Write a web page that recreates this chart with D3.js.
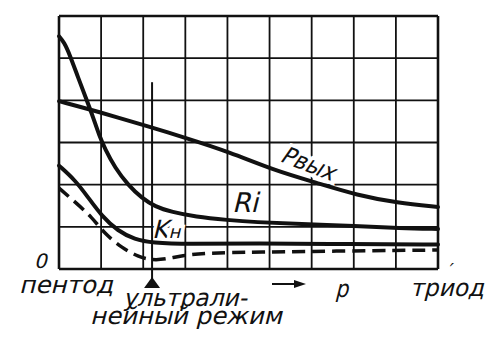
<!DOCTYPE html>
<html>
<head>
<meta charset="utf-8">
<script src="https://cdn.jsdelivr.net/npm/d3@7"></script>
<style>
  body { margin: 0; background: #fff; }
  text { font-family: "DejaVu Sans", sans-serif; fill: #111; }
</style>
</head>
<body>
<div id="chart"></div>
<script>
// pentode -> triode curves, values in grid cells (9 x 6)

var cols = d3.range(0, 10),
    rows = d3.range(0, 7);

var pOut = [[0, 3.98], [0.97, 3.72], [2.16, 3.37], [2.94, 3.13], [4.06, 2.77],
            [5.08, 2.35], [6.13, 2.04], [7.08, 1.75], [8.03, 1.57], [9, 1.47]];

var ri = [[0, 5.52], [0.12, 5.38], [0.26, 5.07], [0.45, 4.55], [0.66, 4.0],
          [0.81, 3.60], [0.95, 3.18], [1.09, 2.85], [1.33, 2.40], [1.64, 1.99],
          [1.97, 1.68], [2.28, 1.48], [2.68, 1.35], [3.23, 1.24], [4.01, 1.16],
          [4.65, 1.11], [5.72, 1.07], [7.05, 1.02], [8.1, 0.97], [9, 0.95]];

var kn = [[0, 2.45], [0.38, 2.11], [0.69, 1.70], [1.02, 1.25], [1.40, 0.90],
          [1.80, 0.70], [2.21, 0.62], [3.06, 0.59], [4.65, 0.61], [6.91, 0.59],
          [9, 0.58]];

var knDash = [[0, 1.92], [0.38, 1.59], [0.78, 1.23], [1.09, 0.83], [1.50, 0.50],
              [1.88, 0.29], [2.21, 0.21], [2.52, 0.23], [2.92, 0.32], [3.47, 0.38],
              [4.65, 0.40], [6.91, 0.43], [9, 0.45]];

var ultraPos = 2.21,   // ultralinear mode marker
    ultraTop = 4.43;

var width = 500,
    height = 344,
    slant = -14;

var svg = d3.select("#chart").append("svg")
    .attr("width", width)
    .attr("height", height);

var xScale = d3.scaleLinear().domain([0, 9]).range([59, 438]);
var yScale = d3.scaleLinear().domain([0, 6]).range([269, 16]);

// grid
svg.append("g").selectAll("line")
  .data(cols)
  .enter().append("line")
    .attr("x1", function(d) { return xScale(d); })
    .attr("x2", function(d) { return xScale(d); })
    .attr("y1", yScale(0))
    .attr("y2", yScale(6))
    .attr("stroke", "#111")
    .attr("stroke-width", function(d) { return (d == 0 || d == 9) ? 2.6 : 1.8; });

svg.append("g").selectAll("line")
  .data(rows)
  .enter().append("line")
    .attr("x1", xScale(0))
    .attr("x2", xScale(9))
    .attr("y1", function(d) { return yScale(d); })
    .attr("y2", function(d) { return yScale(d); })
    .attr("stroke", "#111")
    .attr("stroke-width", function(d) { return (d == 0 || d == 6) ? 2.6 : 1.8; });

// slanted text, optional white halo that cuts the grid
function label(txt, x, y, size, len, rot, halo) {
  var g = svg.append("g")
      .attr("transform", "translate(" + x + "," + y + ")" +
            (rot ? " rotate(" + rot + ")" : "") + " skewX(" + slant + ")");
  var t = g.append("text")
      .attr("font-size", size)
      .text(txt);
  if (halo) t.attr("stroke", "#fff").attr("stroke-width", 7).attr("paint-order", "stroke");
  if (len) t.attr("textLength", len).attr("lengthAdjust", "spacingAndGlyphs");
  return t;
}

label("Pвых", 279, 161, 24, 56, 21, true);
label("Ri", 232, 212, 27, 26, 0, true);
var kt = label("K", 152, 238, 25, 0, 0, true);
kt.append("tspan").attr("font-size", 18).text("н");

var line = d3.line()
    .x(function(d) { return xScale(d[0]); })
    .y(function(d) { return yScale(d[1]); })
    .curve(d3.curveBasis);

[pOut, ri, kn].forEach(function(s) {
  svg.append("path")
    .attr("d", line(s))
    .attr("fill", "none")
    .attr("stroke", "#111")
    .attr("stroke-width", 4)
    .attr("stroke-linecap", "round");
});

svg.append("path")
  .attr("d", line(knDash))
  .attr("fill", "none")
  .attr("stroke", "#111")
  .attr("stroke-width", 3.5)
  .attr("stroke-dasharray", "13,7");

// ultralinear marker
var mx = xScale(ultraPos);
svg.append("line")
  .attr("x1", mx).attr("x2", mx)
  .attr("y1", yScale(ultraTop))
  .attr("y2", yScale(0) + 10)
  .attr("stroke", "#111")
  .attr("stroke-width", 2);
svg.append("path")
  .attr("d", "M" + mx + "," + (yScale(0) + 8) + "L" + (mx - 8) + "," + (yScale(0) + 19) +
             "L" + (mx + 8) + "," + (yScale(0) + 19) + "Z")
  .attr("fill", "#111");

// texts under the axis
label("0", 34, 268, 20);
label("пентод", 19, 293, 24, 94);
label("ультрали-", 123, 306, 24, 124);
label("нейный режим", 90, 324, 24, 192);
label("р", 335, 297, 24, 13);
label("триод", 410, 296, 24, 74);
label("′", 447, 276, 18);

// arrow
svg.append("line")
  .attr("x1", 272).attr("x2", 298)
  .attr("y1", 284).attr("y2", 284)
  .attr("stroke", "#111").attr("stroke-width", 2);
svg.append("path")
  .attr("d", "M306,284L294,280L294,288Z")
  .attr("fill", "#111");
</script>
</body>
</html>
